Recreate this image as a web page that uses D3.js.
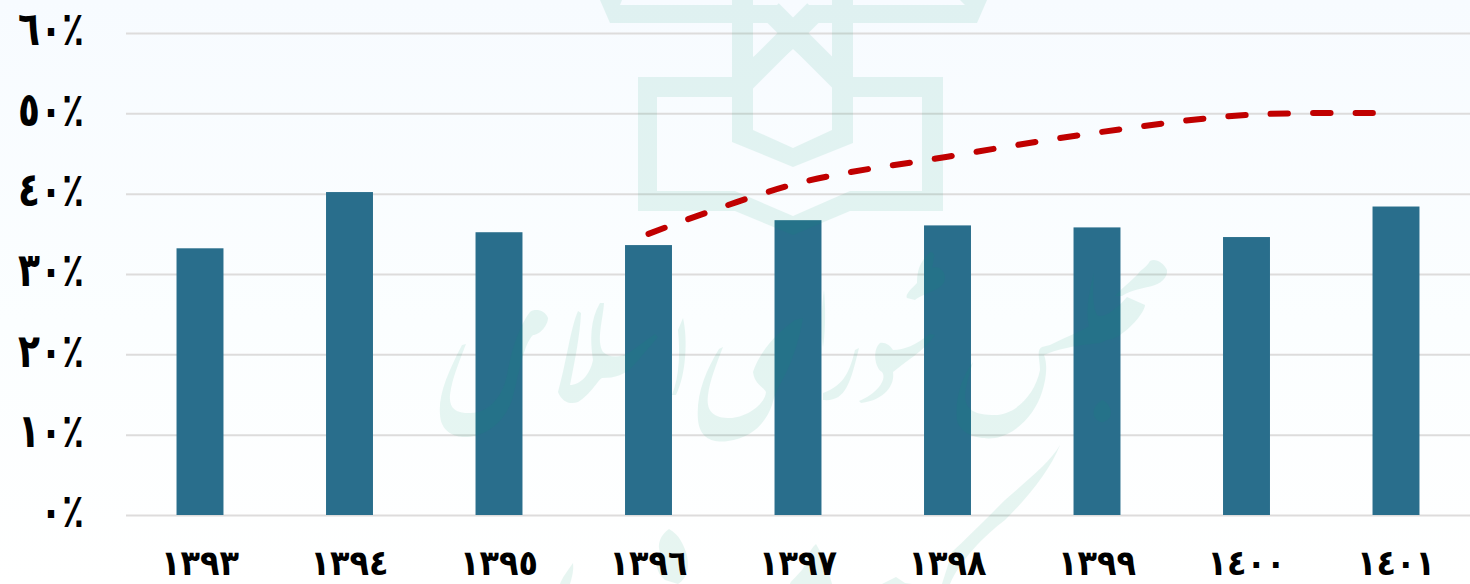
<!DOCTYPE html>
<html lang="fa">
<head>
<meta charset="utf-8">
<script src="https://cdn.jsdelivr.net/npm/d3@7/dist/d3.min.js"></script>
<style>
html,body{margin:0;padding:0;background:#fff;overflow:hidden}
svg{display:block}
text{font-family:"DejaVu Sans",sans-serif;font-weight:700;fill:#000}
</style>
</head>
<body>
<svg id="chart" width="1470" height="584"></svg>
<script>
const yearLabels = ["١٣٩٣","١٣٩٤","١٣٩٥","١٣٩٦","١٣٩٧","١٣٩٨","١٣٩٩","١٤٠٠","١٤٠١"];
const barValues = [33.2,40.2,35.2,33.6,36.7,36.05,35.8,34.6,38.4];
const lineYears = ["١٣٩٦","١٣٩٧","١٣٩٨","١٣٩٩","١٤٠٠","١٤٠١"];
const lineValues = [35,41.3,44.6,47.6,49.8,50];
const yTicks = [0,10,20,30,40,50,60];
const yTickLabels = ["٠٪","١٠٪","٢٠٪","٣٠٪","٤٠٪","٥٠٪","٦٠٪"];

const svg = d3.select("#chart");
const defs = svg.append("defs");
const grad = defs.append("linearGradient").attr("id","bg").attr("x1",0).attr("y1",0).attr("x2",0).attr("y2",1);
grad.append("stop").attr("offset","0%").attr("stop-color","#f7fbff");
grad.append("stop").attr("offset","55%").attr("stop-color","#fbfeff");
grad.append("stop").attr("offset","100%").attr("stop-color","#ffffff");
svg.append("rect").attr("width",1470).attr("height",584).attr("fill","url(#bg)");

const x = d3.scaleBand().domain(yearLabels).range([125.25,1470.75]).paddingInner(0.686).paddingOuter(0.343);
const y = d3.scaleLinear().domain([0,60]).range([515,33]);

// gridlines and value labels
const yAxis = d3.axisLeft(y).tickValues(yTicks).tickSize(-1344).tickPadding(42)
  .tickFormat((d,i)=>yTickLabels[i]);
const gy = svg.append("g").attr("transform","translate(126,0)").call(yAxis);
gy.select(".domain").remove();
gy.selectAll("line").attr("stroke","#dddcdc").attr("stroke-width",2);
gy.selectAll("text").attr("font-size",36).attr("fill","#000").attr("dy","0.25em")
  .attr("transform","scale(1,1.3)");

// bars
svg.append("g").selectAll("rect").data(barValues).join("rect")
  .attr("x",(d,i)=>x(yearLabels[i]))
  .attr("width",x.bandwidth())
  .attr("y",d=>y(d))
  .attr("height",d=>y(0)-y(d))
  .attr("fill","#296e8c");

// watermark emblem + calligraphy (background decoration)
const wm = svg.append("g").attr("opacity",0.09).attr("fill","#009a70").attr("fill-rule","evenodd");
wm.append("path").attr("d",
 "M638,77H732V57H753L793,30L832,57H853V77H943V211H850L793,235L735,211H638Z"+
 "M657,97V191H735L793,216L850,191H922V97H853V143L793,167L732,142V97Z"+
 "M753,83V130L793,148L832,130V83L793,49Z");
wm.append("path").attr("d","M600,0H622L620,5H777L793,20L809,5H965L960,0H987L977,23H610Z");
wm.append("path").attr("d","M732,0H753V80H732Z");
wm.append("path").attr("d","M832,0H853V80H832Z");
wm.append("path").attr("d","M740,86L815,11").attr("fill","none").attr("stroke","#009a70").attr("stroke-width",22);
wm.append("path").attr("d","M846,86L771,11").attr("fill","none").attr("stroke","#009a70").attr("stroke-width",22);
const callig = [
 "M466,344L462,345C448,372 438,395 440,415C441,432 455,438 468,437C490,435 505,420 512,400C519,375 523,345 533,335C540,335 548,325 548,318C545,310 535,308 530,312C522,322 512,345 507,375C503,395 490,413 470,413C455,413 449,408 450,395C452,378 460,360 466,344Z",
 "M578,311C570,330 567,360 558,392C562,402 570,405 578,402C590,395 598,380 602,378C615,378 625,375 634,365L658,337L655,334L630,352C620,358 610,358 603,352C596,340 603,320 604,303L600,303C590,320 590,340 593,360C590,375 580,385 570,385C575,360 580,335 581,313Z",
 "M683,318L678,330C680,350 680,375 672,395L676,395C686,375 688,340 683,318Z",
 "M723,347L719,349C705,372 696,395 698,420C700,440 715,443 728,441C750,438 765,425 772,405C776,390 780,385 785,375C795,355 800,335 803,318L795,320C780,330 760,350 753,372C755,385 762,385 766,392C765,405 745,418 730,418C712,418 706,410 708,395C710,380 716,365 723,347Z",
 "M824,290C821,310 821,335 823,347C825,335 826,310 824,290Z",
 "M859,348L855,350C850,370 845,385 823,393V400C845,402 850,385 859,348Z",
 "M880,343C872,350 875,368 882,372C888,380 875,395 859,401L861,403C885,400 895,385 893,372C905,362 925,350 935,335L930,334C915,345 905,350 893,350C890,345 885,342 880,343Z",
 "M917,283C910,290 905,295 907,298L915,300C925,292 945,290 945,278C945,270 937,265 932,268C935,255 935,252 930,252C920,262 917,270 917,283Z",
 "M973,362C960,380 955,400 957,420C960,435 980,440 995,438C1015,435 1035,415 1042,392C1046,380 1048,365 1044,355C1055,350 1075,345 1100,343C1120,335 1135,320 1144,306L1138,305C1125,312 1110,318 1095,322C1085,330 1070,335 1050,345L1042,347C1036,350 1040,360 1040,370C1035,395 1015,415 995,415C975,415 965,410 965,395C966,385 970,372 973,362Z",
 "M1094,273C1088,295 1085,315 1090,330C1098,342 1110,342 1120,335C1135,325 1145,310 1145,305L1127,297C1120,305 1105,320 1097,315C1092,305 1093,290 1094,273Z",
 "M1167,270C1163,262 1155,258 1150,261C1146,268 1140,270 1138,274C1130,282 1120,290 1115,296L1122,296C1130,290 1145,288 1152,286C1160,284 1168,278 1167,270Z",
 "M1102,400C1096,404 1092,410 1094,416C1098,424 1105,424 1110,417C1113,410 1108,402 1102,400Z",
 "M1060,445C1050,462 1030,478 1005,500C985,520 965,540 952,552C948,565 945,575 942,584H950C960,560 985,535 1005,520C1030,495 1050,470 1060,445Z",
 "M896,577L882,584H912L905,583Z",
 "M669,529C660,535 657,545 660,552C655,560 655,572 665,580L678,584C688,578 690,565 686,552C683,545 680,535 669,529Z",
 "M816,544C808,550 806,565 802,570C795,578 790,582 790,584H832C830,575 825,565 822,555Z",
 "M573,563C568,570 562,578 560,584H570C572,577 574,570 573,563Z"
];
wm.append("g").selectAll("path").data(callig).join("path").attr("d",d=>d);

// dashed line
const line = d3.line().x((d,i)=>x(lineYears[i])+x.bandwidth()/2).y(d=>y(d)).curve(d3.curveCatmullRom.alpha(0.5));
svg.append("path").attr("d",line(lineValues)).attr("fill","none").attr("stroke","#c00000")
  .attr("stroke-width",6).attr("stroke-linecap","round").attr("stroke-dasharray","17.3 25.1");

// category labels
svg.append("g").selectAll("text").data(yearLabels).join("text")
  .attr("transform",d=>`translate(${x(d)+x.bandwidth()/2},575) scale(1,1.1)`)
  .attr("text-anchor","middle").attr("font-size",32).text(d=>d);
</script>
</body>
</html>
